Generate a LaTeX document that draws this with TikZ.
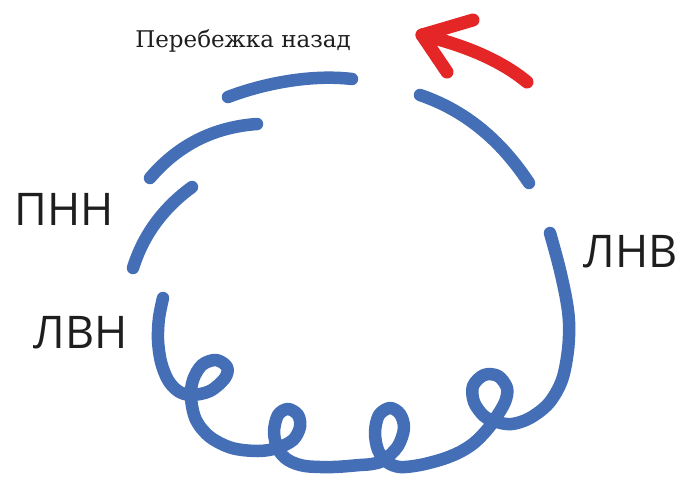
\documentclass[tikz,border=0pt]{standalone}
\usepackage{fontspec}
\setmainfont{Liberation Serif}
\setsansfont{Open Sans}
\newfontfamily\titlefont{DejaVu Serif}
\definecolor{loopblue}{RGB}{68,110,182}
\definecolor{runred}{RGB}{228,38,38}
\definecolor{inkgray}{RGB}{30,30,30}
\begin{document}
\begin{tikzpicture}[x=1pt,y=-1pt,
  arcline/.style={draw=loopblue,line width=12.5pt,line cap=round,line join=round},
  lbl/.style={font=\fontsize{45}{45}\selectfont\sffamily,text=inkgray,inner sep=0pt,anchor=base}]
  \useasboundingbox (0,0) rectangle (688,480);
  % broken arcs of the upper half
  \draw[arcline] (228,97) .. controls (262,84) and (310,74) .. (352,79);
  \draw[arcline] (257,124) .. controls (214,127) and (178,145) .. (150,178);
  \draw[arcline] (192,187) .. controls (162,209) and (143,236) .. (133,268);
  \draw[arcline] (420,95) .. controls (464,110) and (500,139) .. (529,183);
  % lower half with the loops
  \draw[arcline] plot[smooth,tension=0.55] coordinates {
    (163,298) (159,318) (158,340) (161,362) (168,380) (178,391) (191,395)
    (210,391) (225,378) (227,367) (216,360) (202,365) (193,380) (191,398)
    (196,420) (210,437) (232,448) (258,451) (277,448)
    (293,440) (300,427) (298,415) (288,409) (278,415) (274,432) (278,449)
    (288,460) (305,466) (333,467) (360,465) (372,464) (384,460)
    (398,446) (404,428) (400,414) (390,408) (379,415) (375,432) (378,450)
    (387,462) (400,467) (420,465) (443,459) (460,452) (474,443) (486,431) (495,419)
    (505,402) (507,388) (498,376) (484,375) (473,386) (474,402) (484,416)
    (497,422) (512,424) (530,418) (549,403) (562,380) (568,350) (569,322)
    (566,298) (559,266) (550,233)};
  % red arrow
  \coordinate (tail) at (527,82);
  \coordinate (tip) at (422,35);
  \draw[runred,line width=13pt,line cap=round,line join=round]
    (tail) .. controls (503,62) and (468,46) .. (tip);
  \draw[runred,line width=13pt,line cap=round,line join=round]
    (473,20) -- (tip) -- (447,72);
  % labels
  \node[font=\fontsize{23}{23}\selectfont\titlefont,text=inkgray,inner sep=0pt,anchor=base] (back) at (243,47) {Перебежка назад};
  \node[lbl] (pnn) at (64,225) {ПНН};
  \node[lbl] (lvn) at (81,348) {ЛВН};
  \node[lbl] (lnv) at (631,267) {ЛНВ};
\end{tikzpicture}
\end{document}
